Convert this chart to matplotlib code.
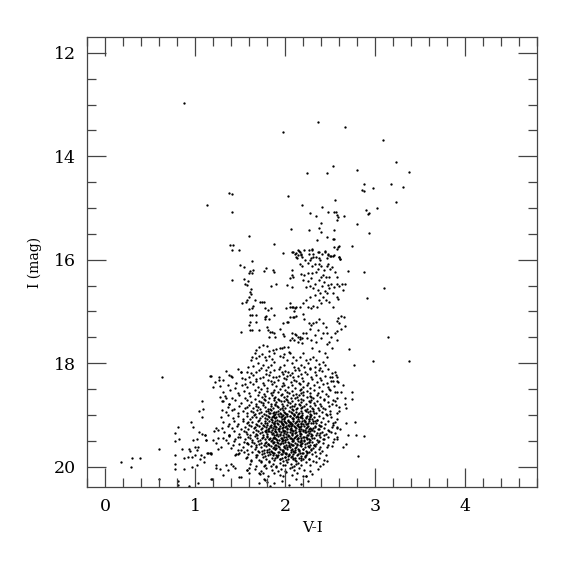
import matplotlib
matplotlib.use("Agg")
import matplotlib.pyplot as plt
from matplotlib.ticker import MultipleLocator

# (V-I, I) pairs, grouped by region of the diagram
bright_stars = [
    (0.88,12.97),(2.36,13.33),(1.98,13.53),(2.66,13.43),(3.09,13.68),(3.23,14.12),(3.37,14.30),
    (2.53,14.19),(2.24,14.33),(2.46,14.32),(2.80,14.27),(2.87,14.53),(2.85,14.65),(2.88,14.68),
    (2.97,14.61),(3.18,14.53),(3.31,14.59),(3.23,14.89),(1.38,14.71),(1.41,14.73),(1.13,14.95),
    (1.41,15.07),(2.03,14.77),(2.19,14.95),(2.55,14.84),(2.41,14.99),(2.47,15.08),(2.54,15.08),
    (2.56,15.07),(2.28,15.10),(2.34,15.15),(2.57,15.13),(2.59,15.17),(2.65,15.16),(2.58,15.23),
    (2.90,15.04),(2.93,15.09),(2.92,15.11),(3.02,15.00),(2.80,15.31),(2.40,15.29),(2.06,15.40),
    (2.26,15.42),(2.38,15.38),(2.40,15.46),(2.54,15.42),(2.93,15.48),(1.60,15.55),(2.46,15.56),
    (2.53,15.59),(2.54,15.59),(2.35,15.62),
]

rgb_upper = [
    (2.54,15.75),(2.58,15.80),(2.60,15.73),(2.59,15.76),(2.74,15.73),(1.98,15.87),(2.08,15.86),
    (2.12,15.87),(2.15,15.83),(2.18,15.89),(2.26,15.89),(2.30,15.82),(2.36,15.86),(2.44,15.84),
    (2.47,15.89),(2.53,15.92),(2.60,15.94),(2.61,15.99),(2.13,15.97),(2.19,15.94),(2.29,15.96),
    (2.31,15.94),(2.37,15.97),(2.46,15.97),(2.50,15.92),(2.70,16.22),
    (2.09,15.85),(2.11,15.88),(2.14,15.82),(2.16,15.86),(2.14,15.91),(2.12,15.95),(2.18,15.90),
    (2.21,15.81),(2.26,15.81),(2.30,15.80),(2.31,15.88),(2.34,15.95),(2.37,15.86),(2.39,16.01),
    (2.41,15.89),(2.44,15.86),(2.48,15.91),(2.51,15.93),(2.54,15.91),(2.60,15.95),(2.61,15.99),
    (2.08,16.20),(2.16,16.08),(2.19,16.12),(2.22,16.01),(2.25,16.07),(2.28,16.01),(2.30,16.13),
    (2.33,16.08),(2.36,16.17),(2.38,16.08),(2.40,16.13),(2.43,16.20),(2.46,16.13),(2.48,16.08),
    (2.50,16.17),(2.52,16.15),(2.34,16.23),(2.30,16.25),(2.25,16.25),(2.21,16.30),(2.18,16.28),
    (2.42,16.30),(2.45,16.33),(2.49,16.33),(2.55,16.23),(2.57,16.33),(2.05,16.36),(2.09,16.33),
    (2.20,16.39),(2.25,16.42),(2.29,16.36),(2.33,16.46),(2.37,16.39),(2.40,16.34),(2.43,16.44),
    (2.48,16.49),(2.51,16.47),(2.54,16.53),(2.57,16.46),(2.60,16.51),(2.63,16.47),(2.66,16.46),
    (2.08,16.52),(2.23,16.53),(2.27,16.51),(2.31,16.55),(2.36,16.59),(2.39,16.64),(2.41,16.51),
    (2.44,16.60),(2.46,16.65),(2.49,16.55),(2.53,16.64),(2.57,16.72),(2.59,16.75),(2.42,16.72),
    (2.37,16.78),(2.33,16.68),(2.28,16.72),(2.23,16.78),(2.20,16.84),(2.16,16.91),(2.11,16.94),
    (2.09,16.92),(2.05,16.84),(2.25,16.91),(2.29,16.94),(2.31,16.90),(2.35,16.92),(2.40,16.83),
    (2.45,16.78),(2.49,16.81),(2.53,16.91),(2.64,16.59),(2.65,17.10),(2.62,17.09),(2.59,17.12),
    (2.57,17.19),(2.60,17.23),(2.66,17.28),(2.08,16.29),(2.02,16.49),
]

blue_branch = [
    (1.41,16.40),(1.39,15.72),(1.42,15.72),(1.41,15.82),(1.49,15.82),(1.88,15.70),(1.50,16.11),
    (1.54,16.15),(1.63,16.02),(1.60,16.26),(1.63,16.26),(1.61,16.21),(1.64,16.19),(1.76,16.21),
    (1.79,16.16),(1.86,16.19),(1.88,16.24),(1.54,16.38),(1.55,16.46),(1.58,16.48),(1.59,16.41),
    (1.84,16.50),(1.90,16.46),(1.62,16.57),(1.61,16.62),(1.62,16.66),(1.60,16.73),(1.57,16.78),
    (1.56,16.82),(1.52,16.84),(1.66,16.78),(1.64,16.89),(1.72,16.81),(1.74,16.82),(1.76,16.82),
    (1.60,16.96),(1.63,16.93),(1.61,17.07),(1.63,17.06),(1.68,17.06),(1.77,16.93),(1.81,16.97),
    (1.84,16.94),(1.79,17.08),(1.78,17.11),(1.77,17.15),(1.82,17.15),(1.87,17.06),(1.61,17.20),
    (1.60,17.27),(1.61,17.35),(1.63,17.36),(1.68,17.21),(1.71,17.35),(1.51,17.39),(1.80,17.30),
    (1.81,17.36),(1.83,17.39),(1.85,17.39),(1.88,17.42),(1.82,17.50),(1.89,17.50),(1.94,17.33),
    (1.97,17.22),(2.02,17.21),(1.97,17.44),(1.99,17.48),
]

rgb_lower = [
    (2.01,16.94),(2.05,16.92),(2.07,16.91),(2.12,16.92),(2.10,17.00),(2.05,17.10),(2.09,17.11),
    (2.12,17.09),(2.03,17.20),(2.08,17.42),(2.12,17.46),(2.14,17.50),(2.10,17.55),(2.07,17.52),
    (2.16,17.54),(2.19,17.52),(2.10,17.10),(2.20,17.04),(2.21,17.15),(2.26,17.23),(2.29,17.26),
    (2.31,17.22),(2.34,17.20),(2.38,17.15),(2.42,17.23),(2.45,17.30),(2.46,17.41),(2.42,17.42),
    (2.36,17.36),(2.33,17.46),(2.27,17.33),(2.23,17.42),(2.20,17.42),(2.16,17.49),(2.11,17.44),
    (2.05,17.55),(2.14,17.59),(2.19,17.61),(2.24,17.52),(2.29,17.55),(2.34,17.59),(2.40,17.52),
    (2.46,17.62),(2.49,17.59),(2.51,17.49),(2.55,17.42),(2.58,17.37),(2.62,17.33),
    (2.05,17.81),(2.09,17.88),(2.12,17.94),(2.16,17.88),(2.20,17.81),(2.23,17.94),(2.25,18.00),
    (2.28,17.91),(2.31,17.88),(2.34,17.94),(2.37,18.02),(2.42,17.97),(2.44,18.04),(2.46,17.88),
    (2.39,18.10),(2.33,18.07),(2.28,18.10),(2.21,18.07),(2.18,18.04),(2.14,18.10),(2.10,18.07),
    (2.07,18.00),(1.71,17.68),(1.75,17.65),(1.80,17.67),(1.82,17.76),(1.86,17.74),(1.88,17.80),
    (1.90,17.73),(1.94,17.71),(1.96,17.70),(1.99,17.68),(2.03,17.68),(1.68,17.75),(1.66,17.81),
    (1.63,17.88),(1.62,17.94),(1.68,17.90),(1.71,17.86),(1.74,17.83),(1.77,17.89),(1.79,17.94),
    (1.82,17.86),(1.85,17.91),(1.88,17.97),(1.84,18.04),(1.81,18.07),(1.75,18.04),(1.70,18.00),
    (1.64,18.06),(1.59,18.07),(1.57,18.17),(1.67,18.17),(1.73,18.10),(1.79,18.13),(1.88,18.13),
    (1.94,18.07),(1.99,18.04),(2.02,17.94),(1.97,17.88),(1.94,17.86),(1.99,17.82),(2.04,17.78),
    (1.40,18.25),(1.51,18.17),(1.60,18.26),(1.68,18.30),(1.75,18.26),(1.82,18.23),(1.90,18.26),
    (1.97,18.21),(2.03,18.17),(2.30,17.70),(2.38,17.76),(2.44,17.80),(2.52,17.70),(2.57,17.56),
]

core_upper = [
    (1.34,18.16),(1.47,18.12),(1.62,18.19),(1.71,18.14),(1.83,18.18),(1.93,18.11),(2.00,18.15),
    (2.08,18.19),(2.15,18.13),(2.22,18.17),(2.27,18.12),(2.33,18.18),(2.41,18.15),(2.47,18.11),
    (2.52,18.19),(1.96,18.17),(2.11,18.14),(2.37,18.13),
    (1.26,18.27),(1.38,18.22),(1.52,18.28),(1.64,18.23),(1.72,18.29),(1.79,18.21),(1.86,18.27),
    (1.93,18.24),(1.99,18.29),(2.05,18.22),(2.09,18.27),(2.14,18.24),(2.19,18.28),(2.24,18.21),
    (2.29,18.26),(2.34,18.23),(2.39,18.29),(2.44,18.24),(2.50,18.27),(2.56,18.22),(2.02,18.25),
    (2.17,18.21),
    (1.22,18.36),(1.31,18.33),(1.45,18.38),(1.55,18.31),(1.61,18.37),(1.68,18.34),(1.75,18.39),
    (1.81,18.32),(1.87,18.37),(1.92,18.33),(1.97,18.38),(2.01,18.31),(2.06,18.36),(2.10,18.32),
    (2.15,18.38),(2.20,18.34),(2.25,18.39),(2.30,18.31),(2.35,18.36),(2.40,18.33),(2.46,18.38),
    (2.53,18.34),(2.59,18.37),(1.84,18.34),(2.12,18.35),
    (1.27,18.45),(1.36,18.42),(1.44,18.48),(1.52,18.43),(1.58,18.47),(1.64,18.41),(1.70,18.46),
    (1.76,18.43),(1.80,18.48),(1.85,18.41),(1.90,18.45),(1.94,18.49),(1.99,18.42),(2.03,18.47),
    (2.07,18.43),(2.11,18.48),(2.16,18.41),(2.20,18.46),(2.24,18.43),(2.28,18.48),(2.32,18.42),
    (2.37,18.46),(2.42,18.41),(2.47,18.47),(2.54,18.44),(1.73,18.49),(1.96,18.44),(2.18,18.49),
    (1.31,18.56),(1.39,18.52),(1.47,18.57),(1.54,18.53),(1.60,18.58),(1.66,18.51),(1.71,18.56),
    (1.76,18.59),(1.80,18.53),(1.84,18.57),(1.88,18.51),(1.92,18.55),(1.96,18.59),(2.00,18.52),
    (2.04,18.57),(2.08,18.54),(2.12,18.59),(2.16,18.51),(2.20,18.56),(2.24,18.53),(2.28,18.58),
    (2.32,18.52),(2.36,18.57),(2.41,18.54),(2.45,18.59),(2.50,18.52),(2.62,18.55),(1.86,18.55),
    (2.02,18.55),(2.18,18.58),
    (1.33,18.64),(1.41,18.68),(1.49,18.62),(1.55,18.67),(1.61,18.63),(1.66,18.69),(1.70,18.61),
    (1.74,18.66),(1.78,18.63),(1.82,18.68),(1.85,18.61),(1.89,18.65),(1.92,18.69),(1.95,18.62),
    (1.99,18.66),(2.02,18.63),(2.06,18.68),(2.09,18.61),(2.13,18.65),(2.17,18.69),(2.20,18.62),
    (2.24,18.66),(2.27,18.63),(2.31,18.68),(2.35,18.61),(2.39,18.65),(2.43,18.69),(2.48,18.63),
    (2.58,18.67),(1.87,18.67),(2.01,18.69),(2.15,18.62),(2.29,18.66),(1.76,18.69),(2.11,18.67),
    (1.30,18.73),(1.37,18.78),(1.44,18.72),(1.51,18.77),(1.57,18.71),(1.62,18.76),(1.67,18.79),
    (1.71,18.73),(1.75,18.77),(1.78,18.71),(1.81,18.75),(1.84,18.79),(1.87,18.72),(1.90,18.76),
    (1.93,18.71),(1.96,18.78),(1.99,18.74),(2.02,18.71),(2.05,18.77),(2.08,18.73),(2.11,18.79),
    (2.14,18.72),(2.17,18.76),(2.20,18.71),(2.23,18.78),(2.26,18.74),(2.29,18.71),(2.32,18.77),
    (2.35,18.73),(2.39,18.79),(2.43,18.72),(2.47,18.76),(2.55,18.74),(2.66,18.78),(1.89,18.79),
    (2.03,18.75),(2.15,18.79),(2.27,18.76),(1.73,18.75),(1.95,18.74),
]

core_middle = [
    (1.36,18.84),(1.43,18.88),(1.49,18.82),(1.55,18.87),(1.60,18.81),(1.64,18.86),(1.68,18.83),
    (1.72,18.88),(1.75,18.81),(1.78,18.85),(1.81,18.89),(1.84,18.82),(1.86,18.86),(1.89,18.81),
    (1.92,18.85),(1.94,18.89),(1.97,18.83),(2.00,18.87),(2.02,18.81),(2.05,18.85),(2.08,18.89),
    (2.10,18.82),(2.13,18.86),(2.16,18.81),(2.18,18.87),(2.21,18.83),(2.24,18.88),(2.27,18.82),
    (2.30,18.86),(2.33,18.81),(2.36,18.87),(2.40,18.83),(2.44,18.88),(2.49,18.82),(2.60,18.85),
    (1.70,18.85),(1.83,18.88),(1.96,18.86),(2.07,18.83),(2.19,18.85),(2.31,18.89),(1.58,18.84),
    (2.42,18.86),(1.91,18.83),(2.12,18.88),
    (1.34,18.95),(1.41,18.91),(1.47,18.96),(1.53,18.92),(1.58,18.97),(1.62,18.93),(1.66,18.98),
    (1.69,18.91),(1.73,18.95),(1.76,18.99),(1.79,18.92),(1.82,18.96),(1.84,18.91),(1.87,18.95),
    (1.89,18.99),(1.92,18.92),(1.94,18.96),(1.97,18.91),(1.99,18.95),(2.02,18.99),(2.04,18.93),
    (2.07,18.97),(2.09,18.91),(2.12,18.95),(2.14,18.99),(2.17,18.92),(2.19,18.96),(2.22,18.91),
    (2.25,18.95),(2.28,18.99),(2.31,18.93),(2.34,18.97),(2.37,18.91),(2.41,18.95),(2.45,18.99),
    (2.50,18.93),(2.57,18.97),(1.71,18.97),(1.81,18.93),(1.90,18.94),(2.00,18.97),(2.06,18.94),
    (2.15,18.97),(2.23,18.93),(2.32,18.96),(1.95,18.98),(2.10,18.98),(1.86,18.97),(2.27,18.92),
    (1.64,18.95),
    (1.29,19.05),(1.36,19.01),(1.42,19.06),(1.48,19.02),(1.53,19.07),(1.57,19.03),(1.61,19.08),
    (1.65,19.01),(1.68,19.05),(1.71,19.09),(1.74,19.02),(1.77,19.06),(1.79,19.01),(1.82,19.04),
    (1.84,19.08),(1.86,19.02),(1.89,19.06),(1.91,19.09),(1.93,19.03),(1.96,19.07),(1.98,19.01),
    (2.00,19.05),(2.03,19.09),(2.05,19.02),(2.07,19.06),(2.10,19.01),(2.12,19.04),(2.14,19.08),
    (2.17,19.02),(2.19,19.06),(2.21,19.09),(2.24,19.03),(2.26,19.07),(2.29,19.01),(2.32,19.05),
    (2.35,19.09),(2.38,19.02),(2.42,19.06),(2.46,19.01),(2.51,19.05),(2.58,19.08),(1.72,19.06),
    (1.80,19.08),(1.88,19.04),(1.95,19.05),(2.02,19.03),(2.09,19.07),(2.16,19.05),(2.23,19.06),
    (2.30,19.08),(1.85,19.05),(1.99,19.08),(2.13,19.02),(2.27,19.04),(1.63,19.05),
    (1.31,19.14),(1.37,19.18),(1.43,19.12),(1.48,19.17),(1.53,19.11),(1.57,19.16),(1.60,19.19),
    (1.63,19.13),(1.67,19.17),(1.70,19.11),(1.73,19.15),(1.75,19.19),(1.78,19.12),(1.80,19.16),
    (1.82,19.11),(1.85,19.14),(1.87,19.18),(1.89,19.12),(1.91,19.16),(1.93,19.11),(1.95,19.14),
    (1.97,19.18),(1.99,19.12),(2.01,19.16),(2.03,19.19),(2.05,19.13),(2.07,19.17),(2.09,19.11),
    (2.11,19.15),(2.13,19.19),(2.15,19.12),(2.17,19.16),(2.19,19.11),(2.22,19.14),(2.24,19.18),
    (2.26,19.12),(2.29,19.16),(2.31,19.11),(2.34,19.15),(2.37,19.19),(2.40,19.13),(2.44,19.17),
    (2.48,19.12),(2.53,19.16),(1.69,19.19),(1.77,19.15),(1.84,19.19),(1.92,19.18),(2.00,19.14),
    (2.06,19.15),(2.12,19.13),(2.18,19.18),(2.25,19.15),(2.33,19.12),(1.59,19.14),(1.96,19.16),
    (2.08,19.19),(2.20,19.17),(1.88,19.15),(2.03,19.11),
    (1.30,19.25),(1.36,19.21),(1.41,19.26),(1.46,19.22),(1.51,19.27),(1.55,19.23),(1.59,19.28),
    (1.62,19.21),(1.65,19.25),(1.68,19.29),(1.71,19.22),(1.74,19.26),(1.76,19.21),(1.79,19.24),
    (1.81,19.28),(1.83,19.22),(1.86,19.26),(1.88,19.21),(1.90,19.24),(1.92,19.28),(1.94,19.22),
    (1.96,19.26),(1.98,19.29),(2.00,19.23),(2.02,19.27),(2.04,19.21),(2.06,19.25),(2.08,19.29),
    (2.10,19.22),(2.12,19.26),(2.14,19.21),(2.16,19.24),(2.18,19.28),(2.21,19.22),(2.23,19.26),
    (2.25,19.21),(2.28,19.25),(2.30,19.29),(2.33,19.23),(2.36,19.27),(2.39,19.21),(2.43,19.25),
    (2.47,19.29),(2.52,19.23),(2.58,19.26),(1.73,19.28),(1.82,19.25),(1.89,19.27),(1.97,19.23),
    (2.05,19.28),(2.11,19.24),(2.17,19.21),(2.22,19.29),(2.31,19.25),(1.66,19.23),(1.93,19.25),
    (2.01,19.21),(2.15,19.27),(2.26,19.28),(1.85,19.29),
]

core_lower = [
    (1.32,19.34),(1.38,19.38),(1.43,19.32),(1.49,19.37),(1.54,19.31),(1.58,19.36),(1.61,19.39),
    (1.64,19.33),(1.67,19.37),(1.70,19.31),(1.72,19.35),(1.75,19.39),(1.77,19.32),(1.80,19.36),
    (1.82,19.31),(1.84,19.34),(1.87,19.38),(1.89,19.32),(1.91,19.36),(1.93,19.31),(1.95,19.34),
    (1.97,19.38),(1.99,19.32),(2.01,19.36),(2.03,19.39),(2.05,19.33),(2.07,19.37),(2.09,19.31),
    (2.11,19.35),(2.13,19.39),(2.15,19.32),(2.18,19.36),(2.20,19.31),(2.22,19.34),(2.24,19.38),
    (2.27,19.32),(2.29,19.36),(2.32,19.31),(2.35,19.35),(2.38,19.39),(2.41,19.33),(2.45,19.37),
    (2.49,19.31),(2.55,19.35),(1.69,19.39),(1.79,19.33),(1.86,19.35),(1.94,19.37),(2.02,19.34),
    (2.08,19.38),(2.16,19.35),(2.23,19.33),(2.30,19.38),(1.56,19.34),(1.74,19.34),(1.90,19.39),
    (2.00,19.31),(2.12,19.33),(2.26,19.35),(2.43,19.39),
    (1.31,19.45),(1.37,19.41),(1.44,19.46),(1.50,19.42),(1.55,19.47),(1.59,19.43),(1.63,19.48),
    (1.66,19.41),(1.69,19.45),(1.72,19.49),(1.75,19.42),(1.78,19.46),(1.80,19.41),(1.83,19.44),
    (1.85,19.48),(1.88,19.42),(1.90,19.46),(1.92,19.41),(1.95,19.44),(1.97,19.48),(1.99,19.42),
    (2.02,19.46),(2.04,19.41),(2.06,19.45),(2.09,19.49),(2.11,19.43),(2.13,19.47),(2.16,19.41),
    (2.18,19.45),(2.21,19.49),(2.23,19.42),(2.26,19.46),(2.29,19.41),(2.32,19.45),(2.35,19.49),
    (2.39,19.43),(2.43,19.47),(2.48,19.42),(2.54,19.46),(1.74,19.45),(1.82,19.47),(1.89,19.44),
    (1.96,19.46),(2.01,19.43),(2.07,19.47),(2.14,19.44),(2.20,19.43),(2.27,19.48),(1.61,19.45),
    (1.86,19.45),(2.00,19.49),(2.10,19.45),(2.24,19.44),(1.93,19.49),(2.17,19.48),
    (1.36,19.55),(1.43,19.51),(1.49,19.56),(1.54,19.52),(1.59,19.57),(1.63,19.53),(1.67,19.58),
    (1.70,19.51),(1.73,19.55),(1.76,19.59),(1.79,19.52),(1.81,19.56),(1.84,19.51),(1.86,19.54),
    (1.89,19.58),(1.91,19.52),(1.94,19.56),(1.96,19.51),(1.98,19.54),(2.01,19.58),(2.03,19.52),
    (2.06,19.56),(2.08,19.51),(2.11,19.55),(2.13,19.59),(2.16,19.53),(2.18,19.57),(2.21,19.51),
    (2.24,19.55),(2.27,19.59),(2.30,19.52),(2.34,19.56),(2.38,19.51),(2.42,19.55),(2.47,19.58),
    (2.53,19.53),(1.71,19.57),(1.82,19.58),(1.92,19.55),(2.00,19.53),(2.09,19.58),(2.19,19.54),
    (2.26,19.52),(1.65,19.55),(1.88,19.53),(2.04,19.59),(2.14,19.51),(1.78,19.55),(2.32,19.58),
    (1.57,19.54),
    (1.40,19.64),(1.47,19.68),(1.53,19.62),(1.58,19.67),(1.62,19.61),(1.66,19.66),(1.70,19.69),
    (1.73,19.63),(1.76,19.67),(1.79,19.61),(1.82,19.65),(1.84,19.69),(1.87,19.62),(1.89,19.66),
    (1.92,19.61),(1.94,19.65),(1.97,19.69),(1.99,19.62),(2.02,19.66),(2.04,19.61),(2.07,19.65),
    (2.09,19.69),(2.12,19.62),(2.14,19.66),(2.17,19.61),(2.20,19.65),(2.23,19.69),(2.26,19.63),
    (2.29,19.67),(2.33,19.61),(2.37,19.65),(2.41,19.69),(2.46,19.63),(1.68,19.63),(1.80,19.68),
    (1.90,19.64),(1.98,19.67),(2.05,19.63),(2.15,19.68),(2.22,19.62),(1.74,19.69),(1.86,19.64),
    (2.00,19.64),(2.11,19.68),(2.31,19.64),
    (1.48,19.75),(1.54,19.71),(1.59,19.76),(1.63,19.72),(1.67,19.77),(1.71,19.71),(1.74,19.75),
    (1.77,19.79),(1.80,19.72),(1.83,19.76),(1.85,19.71),(1.88,19.74),(1.90,19.78),(1.93,19.72),
    (1.96,19.76),(1.98,19.71),(2.01,19.75),(2.03,19.79),(2.06,19.72),(2.09,19.76),(2.11,19.71),
    (2.14,19.75),(2.17,19.79),(2.20,19.73),(2.23,19.77),(2.26,19.71),(2.30,19.75),(2.34,19.79),
    (2.39,19.73),(2.45,19.77),(1.69,19.78),(1.81,19.78),(1.92,19.77),(2.00,19.73),(2.08,19.79),
    (2.16,19.73),(2.24,19.74),(1.86,19.77),(2.04,19.76),(1.76,19.73),
]

core_dense = [
    (1.813,19.027),(1.857,19.093),(1.902,19.041),(1.948,19.118),(1.991,19.063),(2.037,19.137),
    (2.083,19.052),(2.127,19.109),(2.174,19.036),(2.218,19.127),(2.263,19.078),(2.307,19.154),
    (2.352,19.098),(1.794,19.186),(1.838,19.242),(1.884,19.207),(1.927,19.264),(1.973,19.193),
    (2.016,19.251),(2.061,19.218),(2.106,19.283),(2.149,19.226),(2.195,19.297),(2.238,19.232),
    (2.284,19.276),(2.331,19.213),(2.376,19.268),(1.806,19.318),(1.851,19.377),(1.896,19.335),
    (1.941,19.392),(1.985,19.346),(2.029,19.405),(2.074,19.358),(2.118,19.417),(2.163,19.369),
    (2.207,19.428),(2.252,19.381),(2.297,19.437),(2.343,19.392),(2.391,19.351),(1.822,19.463),
    (1.866,19.518),(1.911,19.476),(1.955,19.534),(1.999,19.487),(2.044,19.546),(2.089,19.498),
    (2.133,19.557),(2.178,19.509),(2.223,19.566),(2.268,19.521),(2.314,19.578),(2.361,19.532),
    (1.837,19.604),(1.881,19.662),(1.926,19.618),(1.969,19.676),(2.014,19.629),(2.058,19.687),
    (2.103,19.641),(2.147,19.699),(2.192,19.652),(2.236,19.709),(2.281,19.663),(2.327,19.718),
    (1.862,19.746),(1.907,19.803),(1.952,19.758),(1.996,19.816),(2.041,19.769),(2.086,19.827),
    (2.131,19.781),(2.176,19.838),(2.221,19.793),(2.268,19.848),(1.829,18.962),(1.874,18.998),
    (1.918,18.973),(1.963,19.012),(2.008,18.984),(2.052,19.021),(2.097,18.995),(2.142,19.033),
    (2.186,19.006),(2.231,19.046),(2.276,19.017),(1.785,19.283),(1.799,19.426),(1.811,19.571),
    (1.824,19.711),(2.402,19.207),(2.415,19.463),(2.388,19.618),(1.871,19.155),(1.962,19.171),
    (2.053,19.184),(2.141,19.168),(2.232,19.181),(1.889,19.302),(1.979,19.311),(2.069,19.296),
    (2.159,19.307),(2.249,19.319),(1.876,19.441),(1.966,19.452),(2.056,19.437),(2.146,19.449),
    (2.236,19.458),(1.893,19.583),(1.983,19.592),(2.073,19.578),(2.163,19.589),(2.253,19.597),
    (1.917,19.724),(2.007,19.733),(2.097,19.719),(2.187,19.731),(1.943,19.861),(2.113,19.872),
]

core_bottom = [
    (1.56,19.84),(1.62,19.88),(1.67,19.82),(1.71,19.87),(1.75,19.81),(1.79,19.86),(1.82,19.89),
    (1.85,19.83),(1.88,19.87),(1.91,19.81),(1.94,19.85),(1.97,19.89),(2.00,19.82),(2.03,19.86),
    (2.06,19.81),(2.09,19.85),(2.12,19.89),(2.15,19.83),(2.18,19.87),(2.22,19.81),(2.26,19.85),
    (2.31,19.89),(2.37,19.83),(2.43,19.87),(1.73,19.89),(1.89,19.84),(2.01,19.88),(2.11,19.84),
    (2.20,19.86),(1.96,19.83),
    (1.61,19.94),(1.68,19.98),(1.73,19.92),(1.78,19.96),(1.82,19.91),(1.86,19.95),(1.90,19.99),
    (1.94,19.93),(1.98,19.97),(2.02,19.91),(2.06,19.95),(2.10,19.99),(2.14,19.93),(2.18,19.97),
    (2.23,19.92),(2.28,19.96),(2.34,19.91),(2.42,19.95),(1.84,19.98),(2.00,19.96),(2.12,19.95),
    (1.76,19.99),
    (1.66,20.04),(1.73,20.08),(1.79,20.02),(1.85,20.06),(1.90,20.01),(1.95,20.05),(2.00,20.09),
    (2.05,20.03),(2.10,20.07),(2.15,20.02),(2.21,20.06),(2.28,20.09),(2.36,20.04),(1.92,20.08),
    (2.08,20.01),
    (1.72,20.14),(1.81,20.18),(1.87,20.12),(1.94,20.16),(2.01,20.11),(2.07,20.17),(2.13,20.13),
    (2.20,20.18),(2.30,20.15),(1.98,20.19),
    (1.76,20.24),(1.88,20.31),(1.96,20.27),(2.04,20.36),(2.12,20.23),(2.18,20.33),(2.25,20.28),
    (1.83,20.38),(1.71,20.31),(1.78,20.26),(1.80,20.29),(1.51,20.21),(2.23,20.18),
]

core_left_edge = [
    (1.27,18.65),(1.31,18.74),(1.34,18.68),(1.30,18.91),(1.38,18.78),(1.23,19.26),(1.21,19.32),
    (1.25,19.29),(1.20,19.49),(1.12,19.49),(1.11,19.39),(1.16,19.74),(1.18,19.76),(1.25,19.65),
    (1.29,19.63),(1.10,19.81),(1.05,19.85),(1.23,20.03),(1.31,20.16),(1.42,19.99),(1.44,20.03),
    (1.49,20.21),(1.57,20.07),(1.60,20.03),(1.71,20.12),(1.75,20.13),(1.19,20.23),(1.14,19.73),
    (1.18,19.73),(1.23,19.55),(1.25,19.45),(1.23,19.97),(1.27,20.05),(1.34,19.97),(1.36,20.07),
    (1.40,19.94),(1.44,19.78),(1.45,19.76),(1.49,19.74),(1.51,19.68),(1.42,19.58),(1.34,19.49),
    (1.38,19.39),(1.47,19.42),(1.57,19.55),(1.58,19.81),(1.58,20.07),(1.60,20.12),(1.62,19.90),
    (1.08,19.36),(1.17,18.24),(1.20,18.47),(1.26,18.32),(1.41,18.26),(1.51,18.18),(1.55,18.40),
]

blue_tail = [
    (0.63,18.26),(1.16,18.24),(1.07,18.74),(1.04,18.92),(1.09,18.89),(1.07,19.05),(0.95,19.14),
    (0.97,19.23),(0.81,19.24),(1.04,19.33),(0.78,19.35),(0.82,19.47),(0.77,19.51),(0.98,19.48),
    (1.02,19.47),(1.11,19.38),(1.12,19.49),(0.60,19.65),(0.85,19.66),(0.93,19.65),(0.94,19.69),
    (1.00,19.63),(1.03,19.62),(1.02,19.68),(0.77,19.78),(0.87,19.84),(0.92,19.82),(0.96,19.81),
    (1.00,19.77),(1.06,19.77),(1.13,19.73),(0.17,19.91),(0.30,19.83),(0.39,19.83),(0.29,20.01),
    (0.78,19.95),(0.87,20.05),(0.96,20.00),(1.02,19.97),(1.10,19.91),(0.78,20.04),(0.60,20.23),
    (0.81,20.27),(0.81,20.35),(0.93,20.37),(1.03,20.31),(1.18,20.24),
]

red_scatter = [
    (2.88,16.24),(3.10,16.54),(2.91,16.74),(3.14,17.50),(2.71,17.73),(2.97,17.96),(2.76,18.03),
    (3.38,17.96),(2.55,18.18),(2.57,18.26),(2.52,18.27),(2.57,18.35),(2.51,18.35),(2.64,18.42),
    (2.49,18.50),(2.55,18.56),(2.58,18.56),(2.74,18.56),(2.66,18.68),(2.74,18.70),(2.53,18.72),
    (2.52,18.79),(2.56,18.81),(2.50,18.98),(2.60,18.92),(2.68,18.87),(2.55,19.14),(2.53,19.19),
    (2.57,19.23),(2.68,19.15),(2.77,19.13),(2.61,19.27),(2.51,19.33),(2.70,19.38),(2.79,19.38),
    (2.87,19.41),(2.58,19.42),(2.57,19.46),(2.52,19.61),(2.64,19.62),(2.68,19.56),(2.81,19.79),
    (2.46,19.89),(2.39,19.99),(2.23,20.18),
]

x_ticks = [0, 1, 2, 3, 4]
y_ticks = [12, 14, 16, 18, 20]
x_label = "V-I"
y_label = "I (mag)"

groups = [bright_stars, rgb_upper, blue_branch, rgb_lower, core_upper, core_middle,
          core_lower, core_dense, core_bottom, core_left_edge, blue_tail, red_scatter]
vi = [p[0] for g in groups for p in g]
imag = [p[1] for g in groups for p in g]

plt.rcParams['font.family'] = ['DejaVu Serif']
fig = plt.figure(figsize=(5.75, 5.75), dpi=100)
ax = fig.add_axes([0.1518, 0.1525, 0.7826, 0.7826])
ax.scatter(vi, imag, s=2.8, c='black', marker='o', linewidths=0)

ax.set_xlim(-0.2, 4.8)
ax.set_ylim(20.4, 11.7)
ax.set_xticks(x_ticks)
ax.set_yticks(y_ticks)
ax.xaxis.set_minor_locator(MultipleLocator(0.2))
ax.yaxis.set_minor_locator(MultipleLocator(0.5))
ax.tick_params(which='both', direction='in', top=True, right=True, color='#444444', width=0.9)
ax.tick_params(which='major', length=13.5, labelsize=12.5, pad=8)
ax.tick_params(which='minor', length=6.5)
for sp in ax.spines.values():
    sp.set_color('#444444')
    sp.set_linewidth(0.9)

ax.set_xlabel(x_label, fontsize=11, labelpad=4)
ax.set_ylabel(y_label, fontsize=10, labelpad=9)

fig.savefig("out.png", dpi=100)
